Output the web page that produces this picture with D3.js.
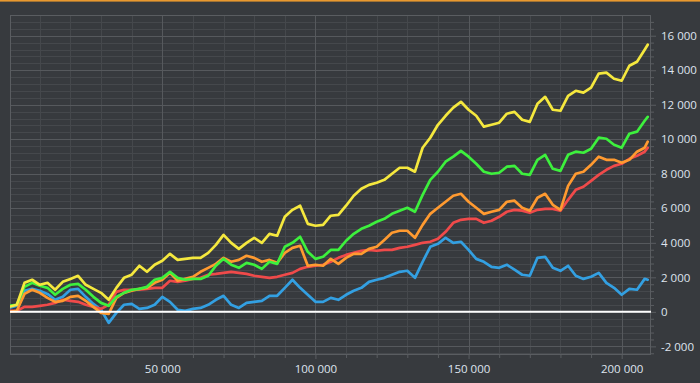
<!DOCTYPE html>
<html><head><meta charset="utf-8">
<script src="https://cdn.jsdelivr.net/npm/d3@7"></script>
<style>html,body{margin:0;padding:0;background:#373a3e;overflow:hidden}svg{display:block}</style>
</head><body><svg id="c" width="700" height="383"></svg>
<script>
const xs = [0,2500,5000,7500,10000,12500,15000,17500,20000,22500,25000,27500,30000,32500,35000,37500,40000,42500,45000,47500,50000,52500,55000,57500,60000,62500,65000,67500,70000,72500,75000,77500,80000,82500,85000,87500,90000,92500,95000,97500,100000,102500,105000,107500,110000,112500,115000,117500,120000,122500,125000,127500,130000,132500,135000,137500,140000,142500,145000,147500,150000,152500,155000,157500,160000,162500,165000,167500,170000,172500,175000,177500,180000,182500,185000,187500,190000,192500,195000,197500,200000,202500,205000,207500,208500];
const yellow = [290,410,1680,1860,1570,1680,1280,1740,1910,2090,1570,1330,1100,700,1390,1970,2150,2670,2320,2730,2960,3360,3010,3070,3130,3130,3420,3880,4460,4000,3650,4000,4290,4000,4520,4410,5510,5910,6150,5100,4990,5040,5570,5620,6150,6730,7130,7360,7480,7650,8000,8350,8350,8120,9510,10090,10840,11360,11830,12170,11710,11360,10730,10840,10960,11480,11590,11130,11010,12060,12460,11710,11650,12520,12810,12700,12990,13800,13860,13510,13390,14260,14490,15190,15480];
const green = [350,410,1450,1680,1510,1390,990,1330,1570,1620,1280,870,520,350,870,1100,1280,1330,1450,1860,1970,2320,1970,1860,1910,1910,2090,2670,3070,2730,2550,2840,2730,2490,2900,2780,3770,4000,4350,3480,3070,3190,3590,3590,4120,4520,4810,4990,5220,5390,5680,5860,6030,5800,6780,7650,8120,8700,8990,9330,8990,8580,8120,8000,8060,8410,8460,8000,7940,8810,9100,8290,8170,9100,9280,9220,9450,10090,10030,9680,9510,10320,10440,11070,11300];
const orange = [0,60,1040,1280,1100,810,580,640,870,930,640,290,-60,-120,810,1100,1220,1330,1390,1680,1860,2260,1800,1910,2030,2320,2550,2780,3130,2900,3010,3250,3130,2900,3010,2840,3420,3710,3830,2670,2730,2670,3070,2780,3130,3360,3360,3650,3770,4170,4580,4700,4700,4290,5040,5680,6030,6380,6730,6840,6380,6030,5680,5800,5910,6380,6440,6030,5860,6610,6840,6200,5910,7300,8000,8120,8520,8990,8810,8810,8640,8810,9280,9510,9860];
const red = [60,60,290,290,350,410,520,700,640,580,410,290,170,410,1160,1280,1280,1280,1330,1390,1390,1800,1740,1800,1910,1970,2150,2200,2260,2320,2260,2200,2090,2030,1970,2030,2150,2260,2490,2610,2670,2730,2900,3130,3300,3420,3540,3590,3540,3590,3590,3710,3770,3880,4000,4060,4230,4640,5160,5330,5390,5390,5160,5280,5510,5800,5910,5860,5740,5910,5970,5970,5860,6490,7070,7250,7590,7940,8230,8460,8580,8870,9040,9280,9510];
const blue = [230,350,1220,1330,1220,1040,700,870,1280,1330,870,460,120,-640,-60,410,460,170,230,410,870,580,120,60,170,230,410,700,930,410,230,520,580,640,930,930,1390,1860,1390,990,580,580,810,700,990,1220,1390,1740,1860,1970,2150,2320,2380,1970,2900,3770,3940,4290,4000,4060,3590,3070,2900,2610,2550,2730,2440,2150,2090,3130,3190,2550,2380,2670,2090,1910,2030,2260,1680,1390,990,1330,1280,1910,1860];
const yTicks = [-2000,0,2000,4000,6000,8000,10000,12000,14000,16000];
const xTicks = [50000,100000,150000,200000];

const seriesNames = ["blue","red","orange","green","yellow"];
const seriesData = {blue, red, orange, green, yellow};
const colors = {blue:"#33a0e2", red:"#f04a4a", orange:"#ff9a30", green:"#3df03d", yellow:"#f5e83e"};

const L = 10, R = 651, T = 15, B = 355;
const svg = d3.select("#c");
const x = d3.scaleLinear().domain([0, 209570]).range([9.17, 651]);
const y = d3.scaleLinear().domain([-2500, 17200]).range([B, T]);
const fmt = d3.formatLocale({decimal:".", thousands:" ", grouping:[3], currency:["",""], minus:"-"}).format(",d");

svg.append("rect").attr("width",700).attr("height",383).attr("fill","#373a3e");
svg.append("rect").attr("x",0).attr("y",0).attr("width",700).attr("height",1.6).attr("fill","#e8982f");

const grid = svg.append("g");
const minorY = d3.range(-2400, 17200, 400).filter(v => v % 2000 !== 0);
const minorX = d3.range(10000, 209570, 10000).filter(v => v % 50000 !== 0);
grid.selectAll(".my").data(minorY).join("line")
  .attr("x1",L).attr("x2",R).attr("y1",d=>Math.round(y(d))+0.5).attr("y2",d=>Math.round(y(d))+0.5)
  .attr("stroke","#45484c").attr("stroke-width",1);
grid.selectAll(".mx").data(minorX).join("line")
  .attr("y1",T).attr("y2",B).attr("x1",d=>Math.round(x(d))+0.5).attr("x2",d=>Math.round(x(d))+0.5)
  .attr("stroke","#45484c").attr("stroke-width",1);
grid.selectAll(".My").data(yTicks).join("line")
  .attr("x1",L).attr("x2",R).attr("y1",d=>Math.round(y(d))+0.5).attr("y2",d=>Math.round(y(d))+0.5)
  .attr("stroke","#56595d").attr("stroke-width",1);
grid.selectAll(".Mx").data(xTicks).join("line")
  .attr("y1",T).attr("y2",B).attr("x1",d=>Math.round(x(d))+0.5).attr("x2",d=>Math.round(x(d))+0.5)
  .attr("stroke","#56595d").attr("stroke-width",1);
svg.append("rect").attr("x",L+0.5).attr("y",T+0.5).attr("width",R-L-1).attr("height",B-T-1)
  .attr("fill","none").attr("stroke","#5a5d61").attr("stroke-width",1);

// axes
const axisStyle = g => {
  g.select(".domain").remove();
  g.selectAll(".tick line").attr("stroke","#5a5d61");
  g.selectAll("text").attr("fill","#dfe4ee").style("font-family","'Open Sans', 'Noto Sans', sans-serif").style("font-size","11.5px");
};
svg.append("g").attr("transform",`translate(${R},0)`)
  .call(d3.axisRight(y).tickValues(minorY).tickSize(3).tickFormat(""))
  .call(axisStyle);
svg.append("g").attr("transform",`translate(${R},0)`)
  .call(d3.axisRight(y).tickValues(yTicks).tickSize(5).tickPadding(5).tickFormat(fmt))
  .call(axisStyle);
svg.append("g").attr("transform",`translate(0,${B})`)
  .call(d3.axisBottom(x).tickValues(minorX).tickSize(3).tickFormat(""))
  .call(axisStyle);
svg.append("g").attr("transform",`translate(0,${B})`)
  .call(d3.axisBottom(x).tickValues(xTicks).tickSize(4).tickPadding(6).tickFormat(fmt))
  .call(axisStyle);

// lines
svg.append("clipPath").attr("id","plot").append("rect").attr("x",L).attr("y",T).attr("width",R-L).attr("height",B-T);
const lg = svg.append("g").attr("clip-path","url(#plot)");
const line = d3.line().x((d,i)=>x(xs[i])).y(d=>y(d)).curve(d3.curveLinear);
seriesNames.forEach(n => {
  lg.append("path").datum(seriesData[n]).attr("d",line)
    .attr("fill","none").attr("stroke",colors[n]).attr("stroke-width",2.7)
    .attr("stroke-linejoin","round").attr("stroke-linecap","round");
});
lg.append("line").attr("x1",L).attr("x2",R).attr("y1",y(0)).attr("y2",y(0))
  .attr("stroke","#ffffff").attr("stroke-width",2);
</script></body></html>
